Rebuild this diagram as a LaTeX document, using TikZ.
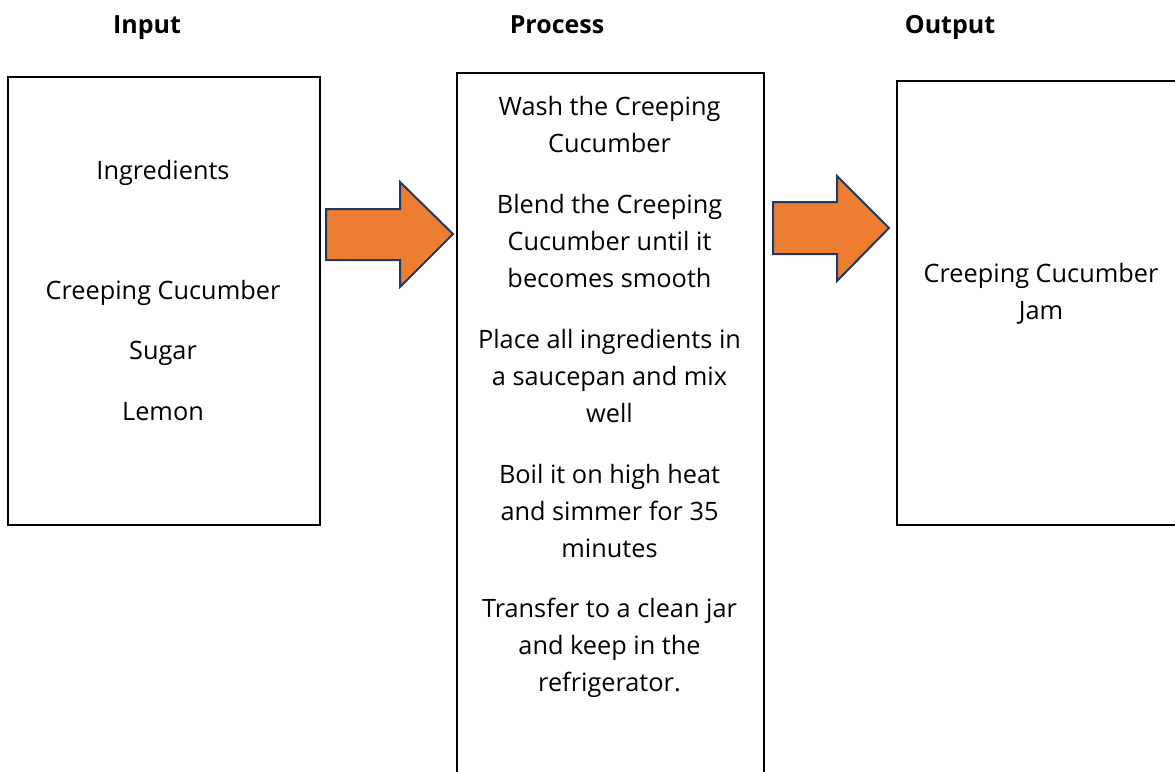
\documentclass[tikz,border=0pt]{standalone}
\usepackage{fontspec}
\setmainfont{Open Sans}
\definecolor{arroworange}{HTML}{ED7D31}
\definecolor{arrowedge}{HTML}{1F3864}
\begin{document}
\begin{tikzpicture}[x=1pt,y=-1pt,
  box/.style={draw=black, line width=2.2pt, fill=none, inner sep=0pt, anchor=north west},
  txt/.style={align=center, inner sep=0pt, font=\fontsize{25.3}{37}\selectfont},
  head/.style={inner sep=0pt, anchor=base, font=\fontsize{25}{37}\selectfont\bfseries},
  blockarrow/.style={fill=arroworange, draw=arrowedge, line width=2pt, line join=miter}]
\useasboundingbox (0,0) rectangle (1175,771);
% headers
\node[head] (hin) at (147,33) {Input};
\node[head] (hpr) at (557,33) {Process};
\node[head] (hout) at (950,33) {Output};
% boxes
\node[box, minimum width=312pt, minimum height=448pt] (inbox) at (7,76) {};
\node[box, minimum width=307pt, minimum height=740pt] (prbox) at (456,72) {};
\node[box, minimum width=300pt, minimum height=444pt] (outbox) at (896,80) {};
% input texts
\node[txt] (ing) at (163,173) {Ingredients};
\node[txt] (cc) at (163,293) {Creeping Cucumber};
\node[txt] (sug) at (163,353) {Sugar};
\node[txt] (lem) at (163,412) {Lemon};
% process texts
\node[txt] (p1) at (609.5,125) {Wash the Creeping\\Cucumber};
\node[txt] (p2) at (609.5,241) {Blend the Creeping\\Cucumber until it\\becomes smooth};
\node[txt] (p3) at (609.5,376) {Place all ingredients in\\a saucepan and mix\\well};
\node[txt] (p4) at (609.5,511) {Boil it on high heat\\and simmer for 35\\minutes};
\node[txt] (p5) at (609.5,648) {Transfer to a clean jar\\and keep in the\\refrigerator.};
% output text
\node[txt] (jam) at (1041,294) {Creeping Cucumber\\Jam};
% block arrows
\path[blockarrow] (326,209) -- (400,209) -- (400,182) -- (453,234) -- (400,287) -- (400,260) -- (326,260) -- cycle;
\path[blockarrow] (773,202) -- (837,202) -- (837,176) -- (889,228) -- (837,281) -- (837,254) -- (773,254) -- cycle;
\end{tikzpicture}
\end{document}
